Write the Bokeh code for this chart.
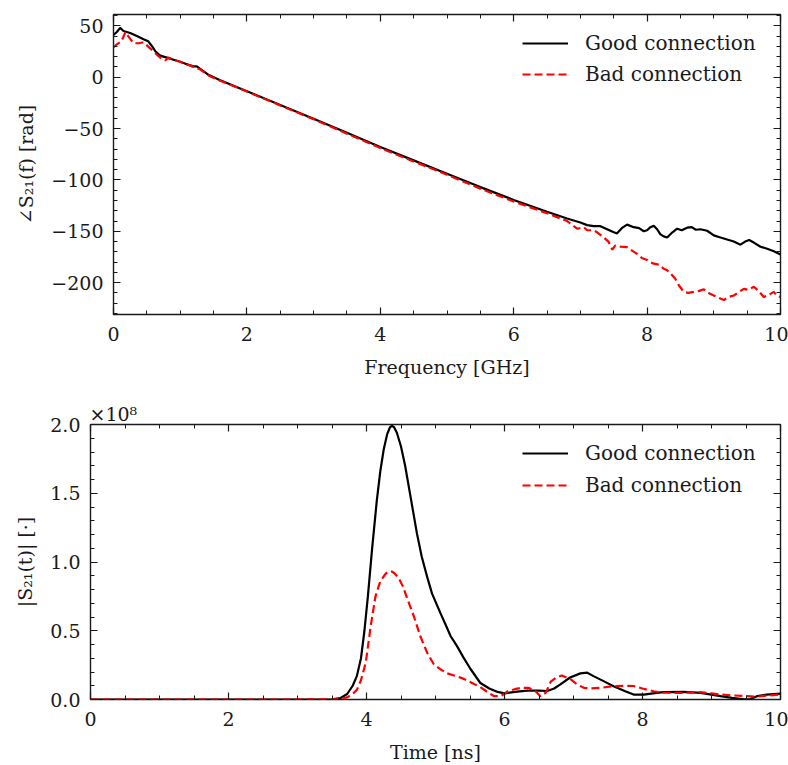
from bokeh.plotting import figure
from bokeh.models import (Range1d, FixedTicker, LinearAxis, CustomJSTickFormatter,
                          Legend, LegendItem)
from bokeh.embed import file_html
from bokeh.resources import INLINE

# ---------------- data ----------------
freq_good = [0.0, 0.05, 0.1, 0.15, 0.25, 0.35, 0.45, 0.52, 0.58, 0.63, 0.7, 0.8, 0.9, 1.0,
             1.1, 1.2, 1.25, 1.3, 1.43, 1.6, 2.0, 2.5, 3.0, 3.5, 4.0, 4.5, 5.0, 5.5, 6.0,
             6.5, 6.8, 7.0, 7.1, 7.2, 7.3, 7.4, 7.5, 7.55, 7.62, 7.7, 7.8, 7.88, 7.95, 8.0,
             8.05, 8.1, 8.15, 8.2, 8.25, 8.3, 8.38, 8.45, 8.52, 8.6, 8.67, 8.73, 8.8, 8.9,
             9.0, 9.1, 9.2, 9.3, 9.4, 9.47, 9.53, 9.6, 9.7, 9.8, 9.9, 10.0]
phase_good = [41, 44, 48, 45, 43, 40, 37, 35, 30, 25, 21, 19, 17, 15,
              12.5, 10.5, 10.5, 8, 2, -3, -13.6, -27, -40.5, -54, -68, -81, -94, -107, -119.5,
              -131, -137.5, -141.5, -144, -145, -145, -148, -151, -152, -147, -143.5, -146, -147, -150, -149,
              -146, -144.5, -148, -153, -155, -156, -151, -147.5, -149, -146.5, -146, -148.5, -148, -149.5,
              -154, -156, -158, -160, -163, -160, -158.5, -161, -165, -167, -169.5, -172.5]

freq_bad = [0.0, 0.05, 0.12, 0.18, 0.22, 0.3, 0.38, 0.45, 0.55, 0.65, 0.72, 0.78, 0.82, 0.9, 1.0,
            1.1, 1.2, 1.3, 1.43, 1.6, 2.0, 2.5, 3.0, 3.5, 4.0, 4.5, 5.0, 5.5, 6.0, 6.5, 6.8,
            6.95, 7.05, 7.1, 7.2, 7.25, 7.35, 7.42, 7.48, 7.52, 7.6, 7.7, 7.78, 7.85, 7.92, 8.0,
            8.05, 8.1, 8.18, 8.25, 8.3, 8.35, 8.42, 8.48, 8.55, 8.62, 8.7, 8.78, 8.85, 8.92, 9.0,
            9.08, 9.15, 9.22, 9.3, 9.38, 9.45, 9.52, 9.6, 9.67, 9.75, 9.82, 9.9, 9.95, 10.0]
phase_bad = [29, 32, 35, 44, 40, 33, 33, 34, 28, 22, 18, 16.5, 19, 17, 15,
             12.5, 10, 7.5, 1.5, -3.5, -14, -27.5, -41, -55, -69, -82, -95, -108.5, -121, -132.5, -140,
             -147.5, -146, -149, -149, -151, -156, -160, -168, -164, -165, -165.5, -169, -172, -176, -178,
             -180, -181.5, -182.5, -186.5, -188, -191, -196, -203, -209, -210, -209, -208, -206.5, -210, -212.5,
             -215, -217, -214, -212.5, -209, -206, -207, -204, -208, -214, -212, -209, -213, -214]

time_good = [0.0, 1.0, 2.0, 3.0, 3.5, 3.62, 3.72, 3.8, 3.86, 3.92, 3.97, 4.02, 4.08, 4.15, 4.2,
             4.25, 4.3, 4.34, 4.37, 4.4, 4.44, 4.5, 4.56, 4.64, 4.73, 4.8, 4.88, 4.95, 5.07,
             5.15, 5.22, 5.31, 5.4, 5.51, 5.65, 5.78, 5.9,
             6.0, 6.15, 6.33, 6.5, 6.62, 6.72, 6.81, 6.95, 7.1, 7.2, 7.29, 7.45, 7.58, 7.75,
             7.87, 8.02, 8.15, 8.3, 8.6, 8.84, 9.0, 9.13, 9.3, 9.47, 9.56, 9.66, 9.8, 10.0]
mag_good = [0.0, 0.0, 0.0, 0.0, 0.002e8, 0.01e8, 0.04e8, 0.1e8, 0.17e8, 0.3e8, 0.5e8, 0.75e8,
            1.09e8, 1.45e8, 1.66e8, 1.82e8, 1.93e8, 1.98e8, 1.99e8, 1.98e8, 1.94e8, 1.84e8,
            1.7e8, 1.47e8, 1.21e8, 1.04e8, 0.89e8, 0.77e8, 0.63e8, 0.54e8, 0.46e8, 0.39e8,
            0.31e8, 0.22e8, 0.12e8, 0.08e8, 0.055e8, 0.045e8, 0.055e8, 0.065e8,
            0.065e8, 0.062e8, 0.08e8, 0.11e8, 0.16e8, 0.19e8, 0.195e8, 0.17e8, 0.13e8, 0.096e8,
            0.06e8, 0.036e8, 0.036e8, 0.045e8, 0.053e8, 0.055e8, 0.048e8, 0.035e8, 0.024e8,
            0.012e8, 0.002e8, 0.003e8, 0.024e8, 0.035e8, 0.043e8]

time_bad = [0.0, 1.0, 2.0, 3.0, 3.6, 3.72, 3.8, 3.86, 3.92, 3.99, 4.06, 4.13, 4.2, 4.27, 4.3,
            4.34, 4.37, 4.4, 4.46, 4.53, 4.6, 4.69, 4.78, 4.88, 4.97, 5.07, 5.17, 5.3, 5.41,
            5.53, 5.65, 5.75, 5.85, 5.95, 6.05, 6.15, 6.25, 6.35, 6.45, 6.52, 6.6, 6.67, 6.75,
            6.83, 6.95, 7.05, 7.15, 7.25, 7.4, 7.58, 7.75, 7.87, 8.0, 8.16, 8.3, 8.5, 8.7, 8.84,
            9.0, 9.13, 9.3, 9.52, 9.65, 9.81, 10.0]
mag_bad = [0.0, 0.0, 0.0, 0.0, 0.002e8, 0.015e8, 0.04e8, 0.07e8, 0.14e8, 0.27e8, 0.53e8, 0.75e8,
           0.86e8, 0.91e8, 0.925e8, 0.93e8, 0.93e8, 0.92e8, 0.89e8, 0.82e8, 0.72e8, 0.6e8, 0.46e8,
           0.34e8, 0.26e8, 0.22e8, 0.19e8, 0.17e8, 0.15e8, 0.12e8, 0.09e8, 0.055e8, 0.024e8,
           0.025e8, 0.06e8, 0.075e8, 0.085e8, 0.085e8, 0.06e8, 0.024e8, 0.05e8, 0.13e8, 0.16e8,
           0.175e8, 0.15e8, 0.11e8, 0.085e8, 0.08e8, 0.085e8, 0.097e8, 0.1e8, 0.098e8, 0.08e8,
           0.06e8, 0.05e8, 0.048e8, 0.05e8, 0.053e8, 0.045e8, 0.036e8, 0.03e8, 0.024e8, 0.02e8,
           0.029e8, 0.036e8]

x_major = [0, 2, 4, 6, 8, 10]
x_minor = [i * 0.5 for i in range(21)]
phase_major = [-200, -150, -100, -50, 0, 50]
phase_minor = list(range(-230, 61, 10))
mag_major = [0.0, 0.5e8, 1.0e8, 1.5e8, 2.0e8]
mag_minor = [i * 0.1e8 for i in range(21)]

series_labels = ["Good connection", "Bad connection"]

FONT = "DejaVu Serif"
INK = "#1a1a1a"


def tick_style(ax):
    ax.axis_line_color = None
    ax.major_tick_in = 7
    ax.major_tick_out = 0
    ax.minor_tick_in = 4
    ax.minor_tick_out = 0
    ax.major_tick_line_color = INK
    ax.minor_tick_line_color = INK
    ax.major_tick_line_width = 1.2
    ax.minor_tick_line_width = 1.0
    ax.major_label_text_font = FONT
    ax.major_label_text_font_size = "19px"
    ax.major_label_text_color = INK
    ax.axis_label_text_font = FONT
    ax.axis_label_text_font_size = "19px"
    ax.axis_label_text_font_style = "normal"
    ax.axis_label_text_color = INK


def build(width, height, left, top, bottom, xr, yr, xticks, yticks, yfmt, xlabel, ylabel):
    p = figure(width=width, height=height, output_backend="svg", toolbar_location=None,
               x_range=xr, y_range=yr, min_border_left=left, min_border_right=8,
               min_border_top=top, min_border_bottom=bottom,
               x_axis_type=None, y_axis_type=None)
    p.outline_line_color = INK
    p.outline_line_width = 1.4
    p.background_fill_color = "white"
    p.border_fill_color = "white"
    blank = CustomJSTickFormatter(code="return '';")
    xb = LinearAxis(ticker=FixedTicker(ticks=xticks[0], minor_ticks=xticks[1]),
                    axis_label=xlabel, major_label_standoff=12, axis_label_standoff=12)
    yl = LinearAxis(ticker=FixedTicker(ticks=yticks[0], minor_ticks=yticks[1]),
                    formatter=yfmt, axis_label=ylabel, major_label_standoff=10,
                    axis_label_standoff=11)
    xa = LinearAxis(ticker=FixedTicker(ticks=xticks[0], minor_ticks=xticks[1]),
                    formatter=blank, major_label_standoff=0)
    yr_ax = LinearAxis(ticker=FixedTicker(ticks=yticks[0], minor_ticks=yticks[1]),
                       formatter=blank, major_label_standoff=0)
    for ax in (xb, yl, xa, yr_ax):
        tick_style(ax)
    p.add_layout(xb, "below")
    p.add_layout(yl, "left")
    p.add_layout(xa, "above")
    p.add_layout(yr_ax, "right")
    p.xgrid.ticker = FixedTicker(ticks=xticks[0])
    p.ygrid.ticker = FixedTicker(ticks=yticks[0])
    p.xgrid.grid_line_color = "#bdbdbd"
    p.ygrid.grid_line_color = "#bdbdbd"
    p.xgrid.grid_line_width = 1
    p.ygrid.grid_line_width = 1
    return p


def add_legend(p, renderers, vx, vy, spacing):
    leg = Legend(items=[LegendItem(label=series_labels[i], renderers=[renderers[i]]) for i in range(2)],
                 location=(vx, vy), border_line_alpha=0, background_fill_alpha=0,
                 label_text_font=FONT, label_text_font_size="20px", label_text_color=INK,
                 glyph_width=46, glyph_height=20, label_height=20, label_standoff=17,
                 spacing=spacing, padding=0, margin=0)
    p.add_layout(leg)


# ---------------- top: phase ----------------
p1 = build(788, 380, 113, 14, 66, Range1d(0, 10), Range1d(-231, 61),
           (x_major, x_minor), (phase_major, phase_minor),
           CustomJSTickFormatter(code="return tick < 0 ? '\u2212' + Math.abs(tick) : String(tick);"),
           "Frequency [GHz]", "\u2220S\u2082\u2081(f) [rad]")
r1 = p1.line(freq_good, phase_good, line_color="black", line_width=2.2)
r2 = p1.line(freq_bad, phase_bad, line_color="#ff0000", line_width=2.2, line_dash="8 4")
add_legend(p1, [r1, r2], 409, 228, 7)

# ---------------- bottom: magnitude ----------------
p2 = build(788, 385, 90, 44, 65, Range1d(0, 10), Range1d(0, 2.0e8),
           (x_major, x_minor), (mag_major, mag_minor),
           CustomJSTickFormatter(code="return (tick / 1e8).toFixed(1);"),
           "Time [ns]", "|S\u2082\u2081(t)| [\u00b7]")
r3 = p2.line(time_good, mag_good, line_color="black", line_width=2.2)
r4 = p2.line(time_bad, mag_bad, line_color="#ff0000", line_width=2.2, line_dash="8 4")
add_legend(p2, [r3, r4], 432, 202, 8)
p2.title.text = "\u00d710\u2078"
p2.title.align = "left"
p2.title.text_font = FONT
p2.title.text_font_size = "19px"
p2.title.text_font_style = "normal"
p2.title.text_color = INK
p2.title.standoff = 0
p2.title.offset = -1

open("out.html", "w").write(file_html([p1, p2], INLINE))
